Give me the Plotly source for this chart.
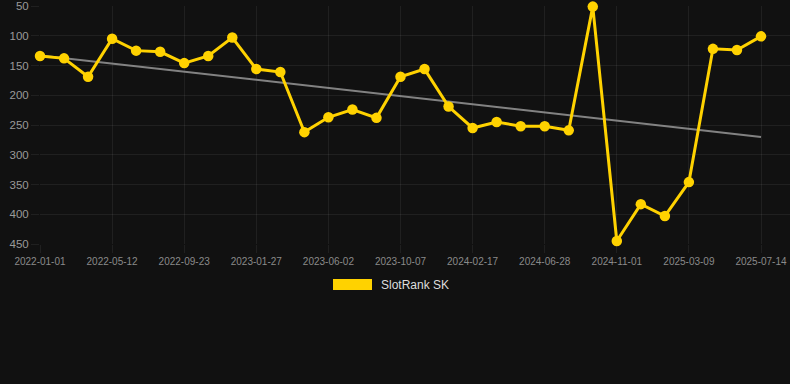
import plotly.graph_objects as go

dates = [
    "2022-01-01", "2022-02-13", "2022-03-28", "2022-05-12", "2022-06-25", "2022-08-09",
    "2022-09-23", "2022-11-04", "2022-12-16", "2023-01-27", "2023-03-10", "2023-04-21",
    "2023-06-02", "2023-07-15", "2023-08-26", "2023-10-07", "2023-11-19", "2024-01-03",
    "2024-02-17", "2024-03-31", "2024-05-14", "2024-06-28", "2024-08-09", "2024-09-20",
    "2024-11-01", "2024-12-12", "2025-01-25", "2025-03-09", "2025-04-21", "2025-06-02",
    "2025-07-14",
]
rank = [
    134, 138, 169, 105, 125, 127, 146, 134, 103, 156, 161, 262, 237, 224, 238,
    169, 156, 219, 255, 245, 252, 252, 259, 51, 445, 383, 403, 346, 122, 124, 101,
]
trend_x = [dates[0], dates[-1]]
trend_y = [133, 270]
tick_labels = dates[::3]
y_ticks = [50, 100, 150, 200, 250, 300, 350, 400, 450]
series_name = "SlotRank SK"

W, H = 790, 384
ML, MR, MT, MB = 40, 0, 6, 140
BG = "#111111"
GRID = "rgba(255,255,255,0.065)"
GOLD = "#FFD200"
FONT = "Liberation Sans, Arial, sans-serif"

fig = go.Figure()
fig.add_trace(go.Scatter(
    x=trend_x, y=trend_y, mode="lines",
    line=dict(color="rgba(150,150,150,0.85)", width=2),
    showlegend=False, hoverinfo="skip", cliponaxis=False,
))
fig.add_trace(go.Scatter(
    x=dates, y=rank, mode="lines+markers", name=series_name,
    line=dict(color=GOLD, width=3),
    marker=dict(color=GOLD, size=10.5),
    showlegend=False, cliponaxis=False,
))

plot_w = W - ML - MR
plot_h = H - MT - MB
n = len(dates)
px_per = (plot_w - 29) / (n - 1)
xmax = (n - 1) + 29 / px_per

fig.update_xaxes(
    type="category", categoryorder="array", categoryarray=dates,
    range=[0, xmax],
    tickmode="array", tickvals=tick_labels, ticktext=tick_labels,
    showgrid=True, gridcolor=GRID, gridwidth=1,
    ticks="outside", ticklen=8, tickcolor=GRID,
    tickfont=dict(family=FONT, size=10, color="#8a8a8a"),
    showline=False, zeroline=False,
)
fig.update_yaxes(
    range=[450, 50],
    tickmode="array", tickvals=y_ticks,
    showgrid=True, gridcolor=GRID, gridwidth=1,
    ticks="outside", ticklen=8, tickcolor=GRID,
    tickfont=dict(family=FONT, size=11.5, color="#9a9a9a"),
    showline=False, zeroline=False,
)

def px_to_paper_x(px):
    return (px - ML) / plot_w

def py_to_paper_y(py):
    return (H - MB - py) / plot_h

fig.add_shape(
    type="rect", xref="paper", yref="paper",
    x0=px_to_paper_x(333), x1=px_to_paper_x(372),
    y0=py_to_paper_y(290), y1=py_to_paper_y(279),
    fillcolor=GOLD, line=dict(width=0),
)
fig.add_annotation(
    xref="paper", yref="paper", x=px_to_paper_x(379), y=py_to_paper_y(285),
    xanchor="left", yanchor="middle", showarrow=False,
    text=series_name, font=dict(family=FONT, size=12, color="#dddddd"),
)

fig.update_layout(
    width=W, height=H,
    margin=dict(l=ML, r=MR, t=MT, b=MB, pad=0),
    paper_bgcolor=BG, plot_bgcolor=BG,
    showlegend=False,
)

fig.write_html(
    "out.html",
    config={"displayModeBar": False},
    post_script="document.body.style.margin='0';document.body.style.background='#111111';",
)
